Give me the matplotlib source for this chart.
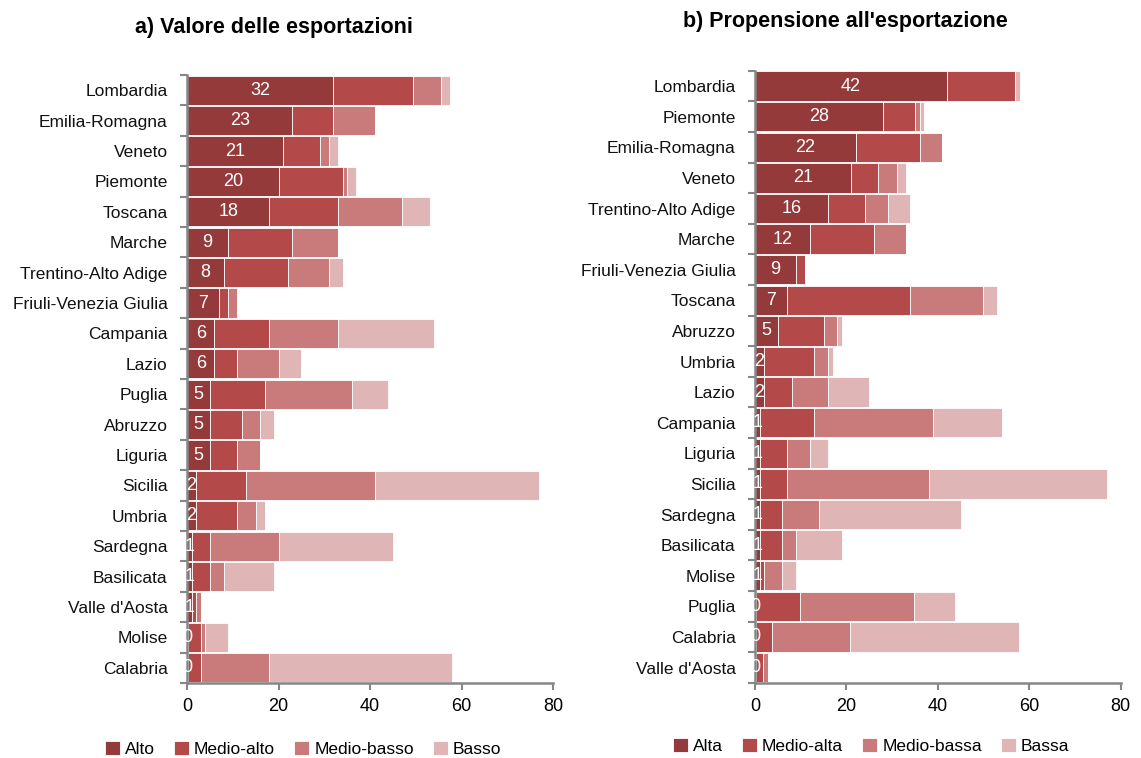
import matplotlib.pyplot as plt
import numpy as np

plt.rcParams['font.family'] = ['Liberation Sans', 'DejaVu Sans']

# a) Valore delle esportazioni
reg_a = ['Lombardia', 'Emilia-Romagna', 'Veneto', 'Piemonte', 'Toscana', 'Marche',
         'Trentino-Alto Adige', 'Friuli-Venezia Giulia', 'Campania', 'Lazio', 'Puglia',
         'Abruzzo', 'Liguria', 'Sicilia', 'Umbria', 'Sardegna', 'Basilicata',
         "Valle d'Aosta", 'Molise', 'Calabria']
alto_a = [32, 23, 21, 20, 18, 9, 8, 7, 6, 6, 5, 5, 5, 2, 2, 1, 1, 1, 0.3, 0.2]
medalto_a = [17.5, 9, 8, 14, 15, 14, 14, 2, 12, 5, 12, 7, 6, 11, 9, 4, 4, 1, 2.7, 2.8]
medbasso_a = [6, 9, 2, 1, 14, 10, 9, 2, 15, 9, 19, 4, 5, 28, 4, 15, 3, 1, 1, 15]
basso_a = [2, 0, 2, 2, 6, 0, 3, 0, 21, 5, 8, 3, 0, 36, 2, 25, 11, 0, 5, 40]
lab_a = ['Alto', 'Medio-alto', 'Medio-basso', 'Basso']

# b) Propensione all'esportazione
reg_b = ['Lombardia', 'Piemonte', 'Emilia-Romagna', 'Veneto', 'Trentino-Alto Adige',
         'Marche', 'Friuli-Venezia Giulia', 'Toscana', 'Abruzzo', 'Umbria', 'Lazio',
         'Campania', 'Liguria', 'Sicilia', 'Sardegna', 'Basilicata', 'Molise',
         'Puglia', 'Calabria', "Valle d'Aosta"]
alto_b = [42, 28, 22, 21, 16, 12, 9, 7, 5, 2, 2, 1, 1, 1, 1, 1, 1, 0.3, 0.2, 0.2]
medalto_b = [15, 7, 14, 6, 8, 14, 2, 27, 10, 11, 6, 12, 6, 6, 5, 5, 1, 9.5, 3.6, 1.6]
medbasso_b = [0, 1, 5, 4, 5, 7, 0, 16, 3, 3, 8, 26, 5, 31, 8, 3, 4, 25, 17, 1]
basso_b = [1, 1, 0, 2, 5, 0, 0, 3, 1, 1, 9, 15, 4, 39, 31, 10, 3, 9, 37, 0]
lab_b = ['Alta', 'Medio-alta', 'Medio-bassa', 'Bassa']

colori = ['#943a3a', '#b34a49', '#c97b7b', '#dfb5b5']
grigio = '#868686'

fig = plt.figure(figsize=(11.41, 7.58), dpi=100)
ax1 = fig.add_axes([0.1639, 0.0989, 0.3208, 0.8021])
ax2 = fig.add_axes([0.6617, 0.0992, 0.3204, 0.8073])


def disegna(ax, regioni, serie, etichette, titolo, tx, ty, ly, lx):
    y = np.arange(len(regioni))
    left = np.zeros(len(regioni))
    handles = []
    for vals, col, lab in zip(serie, colori, etichette):
        b = ax.barh(y, vals, left=left, height=0.96, color=col,
                    edgecolor='white', linewidth=0.6, label=lab)
        handles.append(b)
        left = left + np.array(vals)
    for yi, v in zip(y, serie[0]):
        ax.text(v / 2, yi, f'{v:.0f}', ha='center', va='center',
                color='white', fontsize=13)
    ax.set_ylim(len(regioni) - 0.5, -0.5)
    ax.set_xlim(0, 80)
    ax.set_xticks([0, 20, 40, 60, 80])
    ax.set_yticks(y)
    ax.set_yticklabels(regioni, fontsize=12.5, color='#111111')
    ax.set_yticks(np.arange(len(regioni) + 1) - 0.5, minor=True)
    ax.tick_params(axis='y', which='major', length=0, pad=14)
    ax.tick_params(axis='y', which='minor', length=5, width=1.5, color=grigio, direction='out')
    ax.tick_params(axis='x', length=5, width=1.5, color=grigio, direction='out',
                   labelsize=13, pad=6)
    for s in ['top', 'right']:
        ax.spines[s].set_visible(False)
    for s in ['left', 'bottom']:
        ax.spines[s].set_color(grigio)
        ax.spines[s].set_linewidth(1.8)
    fig.text(tx, ty, titolo, ha='center', va='center', fontsize=15.5, fontweight='bold')
    fig.legend(handles=handles, loc='center left', bbox_to_anchor=(lx, ly), ncol=4,
               frameon=False, fontsize=12.5, handlelength=0.85, handleheight=0.85,
               handletextpad=0.3, columnspacing=1.1, borderpad=0, borderaxespad=0)


disegna(ax1, reg_a, [alto_a, medalto_a, medbasso_a, basso_a], lab_a,
        'a) Valore delle esportazioni', 274 / 1141, 1 - 27 / 758, 1 - 749 / 758, 105 / 1141)
disegna(ax2, reg_b, [alto_b, medalto_b, medbasso_b, basso_b], lab_b,
        "b) Propensione all'esportazione", 845 / 1141, 1 - 22 / 758, 1 - 746 / 758, 673 / 1141)

plt.savefig('out.png', dpi=100)
